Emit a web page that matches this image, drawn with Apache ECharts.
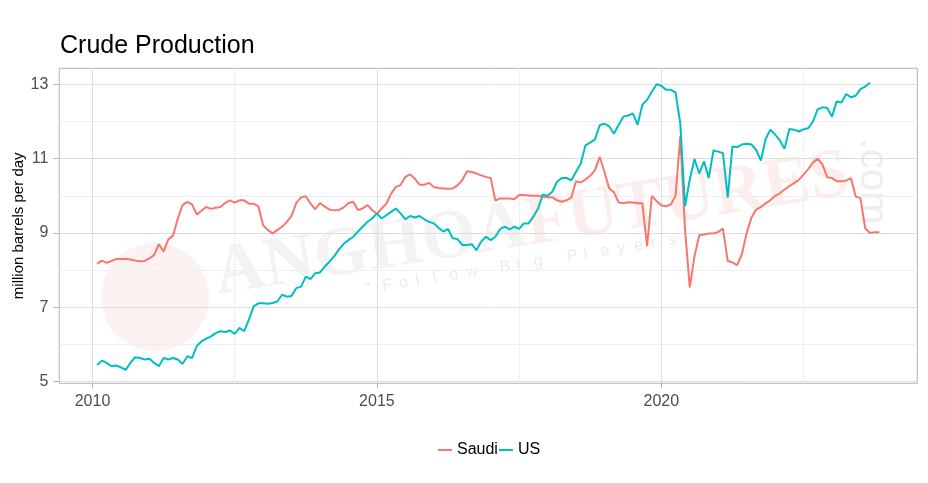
<!DOCTYPE html>
<html>
<head>
<meta charset="utf-8">
<script src="https://cdn.jsdelivr.net/npm/echarts@6/dist/echarts.min.js"></script>
<style>
  html, body { margin: 0; padding: 0; background: #fff; }
  #chart { width: 928px; height: 483px; }
</style>
</head>
<body>
<div id="chart"></div>
<script>
// month offsets are counted from 2010-01 (offset 0)
var saudiStart = 1;
var saudi = [
  8.17, 8.26, 8.20, 8.25, 8.30, 8.30, 8.30, 8.29, 8.26, 8.24, 8.25,
  8.32, 8.41, 8.70, 8.50, 8.83, 8.93, 9.39, 9.75, 9.84, 9.77, 9.50, 9.60,
  9.70, 9.65, 9.68, 9.70, 9.81, 9.88, 9.82, 9.88, 9.88, 9.79, 9.79, 9.72,
  9.21, 9.08, 8.99, 9.08, 9.17, 9.30, 9.46, 9.81, 9.96, 9.99, 9.79, 9.64,
  9.81, 9.71, 9.63, 9.61, 9.62, 9.69, 9.81, 9.84, 9.62, 9.66, 9.75, 9.62,
  9.51, 9.66, 9.79, 10.06, 10.24, 10.29, 10.51, 10.58, 10.46, 10.30, 10.30, 10.35,
  10.24, 10.21, 10.20, 10.19, 10.20, 10.28, 10.42, 10.66, 10.64, 10.60, 10.55, 10.51,
  10.48, 9.87, 9.93, 9.93, 9.93, 9.91, 10.02, 10.02, 10.01, 10.00, 10.00, 9.98,
  9.96, 9.96, 9.88, 9.84, 9.88, 9.95, 10.39, 10.36, 10.44, 10.54, 10.69, 11.05,
  10.65, 10.20, 10.10, 9.82, 9.80, 9.83, 9.82, 9.80, 9.80, 8.65, 10.00, 9.86,
  9.74, 9.72, 9.77, 10.00, 11.60, 9.10, 7.54, 8.38, 8.94, 8.96, 8.99, 8.99,
  9.03, 9.12, 8.25, 8.21, 8.14, 8.43, 9.00, 9.41, 9.63, 9.70, 9.80, 9.88,
  10.00, 10.07, 10.17, 10.26, 10.34, 10.43, 10.57, 10.72, 10.90, 11.00, 10.84, 10.50,
  10.48, 10.39, 10.39, 10.41, 10.48, 9.98, 9.94, 9.13, 9.00, 9.02, 9.02
];
var usStart = 1;
var us = [
  5.45, 5.57, 5.51, 5.42, 5.44, 5.39, 5.32, 5.51, 5.66, 5.64, 5.60,
  5.62, 5.51, 5.42, 5.64, 5.60, 5.64, 5.60, 5.48, 5.69, 5.64, 5.96, 6.09,
  6.16, 6.22, 6.31, 6.36, 6.34, 6.38, 6.29, 6.45, 6.36, 6.67, 7.03, 7.11,
  7.11, 7.10, 7.12, 7.16, 7.34, 7.29, 7.31, 7.52, 7.56, 7.83, 7.76, 7.92,
  7.94, 8.10, 8.23, 8.38, 8.56, 8.71, 8.81, 8.90, 9.04, 9.17, 9.30, 9.39,
  9.53, 9.39, 9.48, 9.57, 9.66, 9.53, 9.37, 9.46, 9.42, 9.46, 9.37, 9.30,
  9.26, 9.14, 9.04, 9.11, 8.86, 8.84, 8.68, 8.68, 8.70, 8.54, 8.77, 8.90,
  8.81, 8.90, 9.11, 9.17, 9.10, 9.17, 9.11, 9.26, 9.26, 9.44, 9.66, 10.04,
  10.00, 10.11, 10.38, 10.48, 10.48, 10.42, 10.64, 10.87, 11.36, 11.43, 11.52, 11.90,
  11.94, 11.87, 11.67, 11.91, 12.13, 12.16, 12.22, 11.91, 12.45, 12.58, 12.80, 13.00,
  12.96, 12.85, 12.85, 12.78, 11.95, 9.72, 10.44, 10.99, 10.60, 10.93, 10.48, 11.22,
  11.19, 11.15, 9.95, 11.33, 11.31, 11.38, 11.40, 11.38, 11.24, 10.95, 11.53, 11.78,
  11.65, 11.49, 11.27, 11.80, 11.78, 11.73, 11.79, 11.82, 12.00, 12.33, 12.38, 12.36,
  12.13, 12.54, 12.51, 12.74, 12.65, 12.69, 12.87, 12.94, 13.04
];
var xLabelMonths = ['2010-01', '2015-01', '2020-01'];
var xMinorMonths = ['2012-07', '2017-07', '2022-07'];
var firstMonth = -7, lastMonth = 174;   // 2009-06 .. 2024-07

function monthName(m) {
  var y = 2010 + Math.floor(m / 12);
  var mo = ((m % 12) + 12) % 12 + 1;
  return y + '-' + (mo < 10 ? '0' : '') + mo;
}
var categories = [];
for (var m = firstMonth; m <= lastMonth; m++) categories.push(monthName(m));

function toPairs(start, vals) {
  return vals.map(function (v, i) { return [monthName(start + i), v]; });
}

var font = 'Liberation Sans, Arial, sans-serif';
var serif = 'Liberation Serif, Times New Roman, serif';
var gridL = 59.3, gridR = 10.7;

// faint site watermark behind the lines
var tagline = '\u201CFollow Big Players';
var taglineChars = tagline.split('').map(function (ch, i) {
  return { type: 'text', style: { text: ch, x: 147 + i * 17, y: 23, fill: '#ececec',
    font: '16px ' + font, verticalAlign: 'bottom' } };
});
var watermark = [
  { type: 'circle', shape: { cx: 155, cy: 297, r: 54 }, style: { fill: '#fdf2f2' }, z: -1, silent: true },
  { type: 'group', x: 218, y: 297, rotation: 0.157, z: -1, silent: true, children: [
      { type: 'text', style: { text: 'ANGHOA', x: 0, y: 14, fill: '#f3f3f3',
        font: 'bold 70px ' + serif, verticalAlign: 'bottom' } },
      { type: 'text', style: { text: 'FUTURES', x: 315, y: 14, fill: '#fdeeee',
        font: 'bold 70px ' + serif, verticalAlign: 'bottom' } }
    ].concat(taglineChars) },
  { type: 'group', x: 872, y: 138, rotation: -Math.PI / 2, z: -1, silent: true, children: [
      { type: 'text', style: { text: '.com', x: 0, y: 0, fill: '#eeeeee',
        font: '40px ' + font, verticalAlign: 'middle' } }
    ] }
];

var chart = echarts.init(document.getElementById('chart'));
chart.setOption({
  animation: false,
  textStyle: { fontFamily: font },
  graphic: watermark,
  title: {
    text: 'Crude Production',
    left: 55, top: 29,
    textStyle: { fontSize: 25, fontWeight: 'normal', color: '#000', fontFamily: font }
  },
  legend: {
    data: ['Saudi', 'US'],
    left: 433, top: 437,
    icon: 'rect', itemWidth: 14, itemHeight: 2, itemGap: 1,
    textStyle: { fontSize: 16, color: '#000', fontFamily: font }
  },
  grid: [
    { left: gridL, right: gridR, top: 68.3, bottom: 99.7, show: true,
      borderColor: '#b3b3b3', borderWidth: 1, backgroundColor: 'transparent' },
    { left: gridL, right: gridR, top: 84.3, bottom: 101.3, show: false }
  ],
  xAxis: [
    {
      gridIndex: 0, type: 'category', data: categories, boundaryGap: false,
      axisLine: { show: false },
      axisTick: {
        show: true, length: 5,
        interval: function (i, v) { return xLabelMonths.indexOf(v) >= 0; },
        lineStyle: { color: '#b3b3b3' }
      },
      axisLabel: {
        interval: function (i, v) { return xLabelMonths.indexOf(v) >= 0; },
        formatter: function (v) { return v.slice(0, 4); },
        fontSize: 16, color: '#4d4d4d', margin: 10, fontFamily: font
      },
      splitLine: {
        show: true,
        interval: function (i, v) { return xLabelMonths.indexOf(v) >= 0 || xMinorMonths.indexOf(v) >= 0; },
        lineStyle: { color: ['#dedede', '#efefef'], width: 1 }
      }
    },
    { gridIndex: 1, type: 'value', show: false }
  ],
  yAxis: [
    {
      gridIndex: 0, type: 'value', min: 4.96, max: 13.43, position: 'left',
      axisLine: { show: false }, axisTick: { show: false },
      axisLabel: { show: false }, splitLine: { show: false },
      name: 'million barrels per day', nameLocation: 'middle', nameGap: 33, nameRotate: 90,
      nameTextStyle: { fontSize: 15, color: '#000', fontFamily: font }
    },
    {
      gridIndex: 1, type: 'value', min: 5, max: 13, interval: 1, position: 'left',
      axisLine: { show: false }, axisTick: { show: false }, axisLabel: { show: false },
      splitLine: { show: true, lineStyle: { color: ['#dedede', '#efefef'], width: 1 } }
    },
    {
      gridIndex: 1, type: 'value', min: 5, max: 13, interval: 2, position: 'left',
      axisLine: { show: false },
      axisTick: { show: true, length: 6, lineStyle: { color: '#b3b3b3' } },
      axisLabel: { fontSize: 16, color: '#4d4d4d', margin: 11, fontFamily: font },
      splitLine: { show: false }
    }
  ],
  series: [
    {
      name: 'Saudi', type: 'line', xAxisIndex: 0, yAxisIndex: 0, z: 5,
      data: toPairs(saudiStart, saudi), showSymbol: false,
      itemStyle: { color: '#F8766D' }, lineStyle: { color: '#F8766D', width: 2 }
    },
    {
      name: 'US', type: 'line', xAxisIndex: 0, yAxisIndex: 0, z: 5,
      data: toPairs(usStart, us), showSymbol: false,
      itemStyle: { color: '#00BFC4' }, lineStyle: { color: '#00BFC4', width: 2 }
    }
  ]
});
</script>
</body>
</html>
